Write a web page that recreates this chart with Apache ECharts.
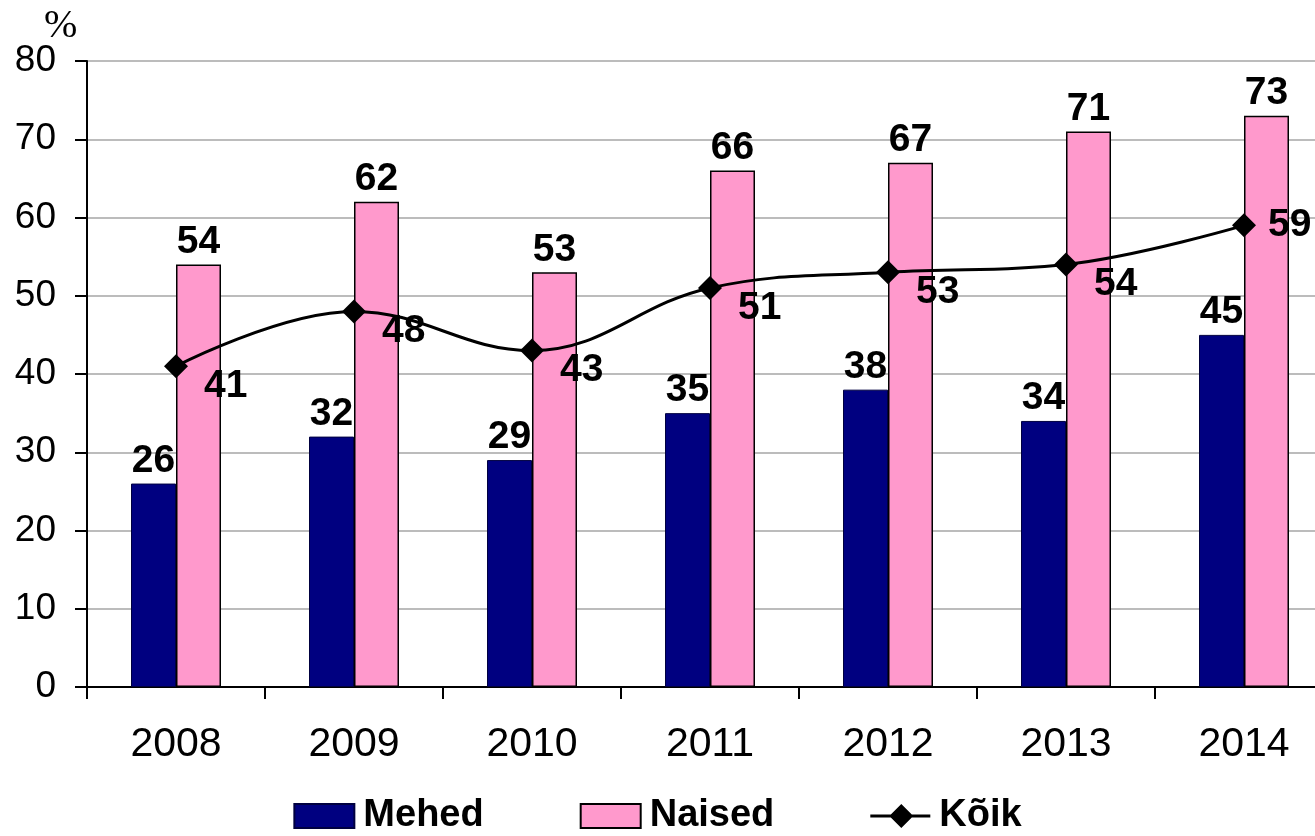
<!DOCTYPE html>
<html>
<head>
<meta charset="utf-8">
<script src="https://cdn.jsdelivr.net/npm/echarts@6/dist/echarts.min.js"></script>
<style>
  html, body { margin: 0; padding: 0; background: #fff; }
  #chart { width: 1315px; height: 836px; }
</style>
</head>
<body>
<div id="chart"></div>
<script>
// ─── 데이터 ───
const years = ['2008', '2009', '2010', '2011', '2012', '2013', '2014'];
const mehed = [26, 32, 29, 35, 38, 34, 45];
const naised = [54, 62, 53, 66, 67, 71, 73];
const koik = [41, 48, 43, 51, 53, 54, 59];

const FONT = "Arial, 'Liberation Sans', sans-serif";
// 범례용 선+마름모 아이콘
const LINE_ICON = 'path://M0,10.5 L60,10.5 L60,13.5 L0,13.5 Z M31,0 L43,12 L31,24 L19,12 Z';

const chart = echarts.init(document.getElementById('chart'), null, { renderer: 'canvas' });

const barLabel = {
  show: true,
  position: 'top',
  distance: 3,
  fontFamily: FONT,
  fontSize: 39,
  fontWeight: 'bold',
  color: '#000',
};

chart.setOption({
  animation: false,
  backgroundColor: '#ffffff',
  textStyle: { fontFamily: FONT, color: '#000' },
  grid: { left: 87, right: -18, top: 61, bottom: 149, containLabel: false, outerBoundsMode: 'none' },
  legend: {
    bottom: -4,
    left: 'center',
    itemWidth: 60,
    itemHeight: 24,
    itemGap: 96,
    textStyle: { fontFamily: FONT, fontSize: 38, fontWeight: 'bold', color: '#000', padding: [0, 0, 0, 4] },
    data: [
      { name: 'Mehed', icon: 'rect' },
      { name: 'Naised', icon: 'rect' },
      { name: 'Kõik', icon: LINE_ICON, itemStyle: { color: '#000', borderWidth: 0 } },
    ],
  },
  graphic: [{
    type: 'text',
    left: 44,
    top: 6,
    style: { text: '%', fontFamily: "'Liberation Serif', 'Times New Roman', serif", fontSize: 40, fill: '#000' },
  }],
  xAxis: {
    type: 'category',
    data: years,
    boundaryGap: true,
    axisLine: { lineStyle: { color: '#000', width: 2 } },
    axisTick: { show: true, length: 12, lineStyle: { color: '#000', width: 2 } },
    axisLabel: { fontFamily: FONT, fontSize: 41, color: '#000', margin: 37 },
    splitLine: { show: false },
  },
  yAxis: {
    type: 'value',
    min: 0,
    max: 80,
    interval: 10,
    axisLine: { show: true, lineStyle: { color: '#000', width: 2 } },
    axisTick: { show: true, length: 12, lineStyle: { color: '#000', width: 2 } },
    axisLabel: { fontFamily: FONT, fontSize: 37, color: '#000', margin: 31 },
    splitLine: { lineStyle: { color: '#bcbcbc', width: 2 } },
  },
  series: [
    {
      name: 'Mehed',
      type: 'bar',
      data: mehed,
      barWidth: 45,
      barGap: '0%',
      itemStyle: { color: '#000080', borderColor: '#000040', borderWidth: 1 },
      label: barLabel,
      z: 2,
    },
    {
      name: 'Naised',
      type: 'bar',
      data: naised,
      barWidth: 45,
      barGap: '0%',
      itemStyle: { color: '#ff99cc', borderColor: '#000', borderWidth: 1.5 },
      label: barLabel,
      z: 2,
    },
    {
      name: 'Kõik',
      type: 'line',
      data: koik.map((v, i) => ({
        value: v,
        label: i === koik.length - 1 ? { offset: [-4, 0] } : undefined,
      })),
      smooth: 0.4,
      symbol: 'diamond',
      symbolSize: 24,
      lineStyle: { color: '#000', width: 3 },
      itemStyle: { color: '#000' },
      label: {
        show: true,
        position: 'right',
        distance: 16,
        offset: [0, 20],
        fontFamily: FONT,
        fontSize: 39,
        fontWeight: 'bold',
        color: '#000',
      },
      z: 5,
    },
  ],
});
</script>
</body>
</html>
